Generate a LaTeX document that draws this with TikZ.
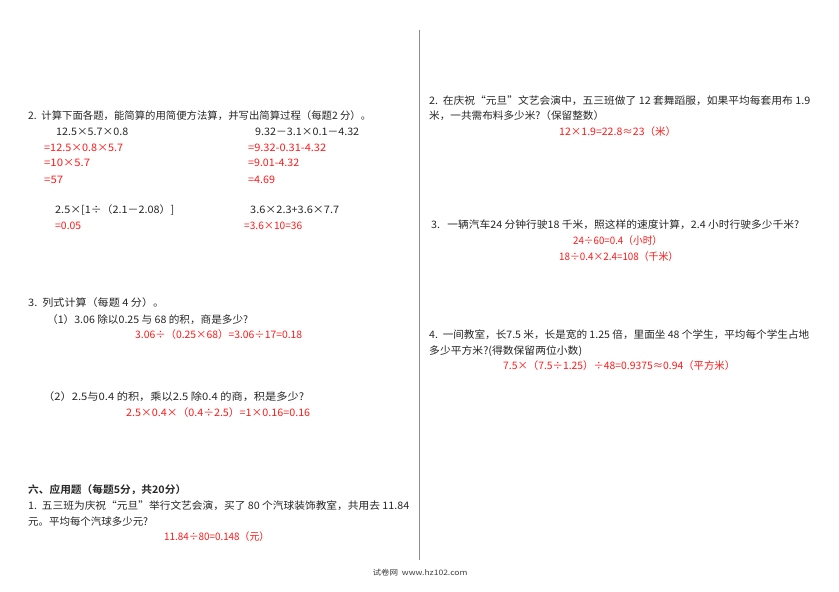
\documentclass[tikz,border=0pt]{standalone}
\usepackage{fontspec}
\setmainfont{Noto Sans CJK SC}
\newfontfamily\cjkb{Noto Sans CJK SC Bold}
\newcommand\fw[2]{\resizebox{#1pt}{\height}{#2}}
\begin{document}
\begin{tikzpicture}[x=1pt,y=-1pt,
  txt/.style={anchor=west,inner sep=0pt,font=\fontsize{10.3}{12}\selectfont,text=black!85},
  ans/.style={txt,text=red!90!white},
  foot/.style={anchor=center,inner sep=0pt,font=\fontsize{7.5}{8}\selectfont,text=black!75}]
\useasboundingbox (0,0) rectangle (839,592);
\fill[white] (0,0) rectangle (839,592);
\coordinate (lt) at (419,30);
\coordinate (lb) at (419,560);
\draw[black!45,line width=0.8pt] (lt) -- (lb);
% left column
\node[txt] (q2) at (28,116) {\fw{343}{2.\ \ 计算下面各题，能简算的用简便方法算，并写出简算过程（每题2 分）。}};
\node[txt] (a1) at (56,132) {\fw{72}{12.5×5.7×0.8}};
\node[txt] (b1) at (255,132) {\fw{104}{9.32－3.1×0.1－4.32}};
\node[ans] (a2) at (44,148) {\fw{79}{=12.5×0.8×5.7}};
\node[ans] (b2) at (248,148) {\fw{78}{=9.32-0.31-4.32}};
\node[ans] (a3) at (44,163) {\fw{46}{=10×5.7}};
\node[ans] (b3) at (248,163) {\fw{51}{=9.01-4.32}};
\node[ans] (a4) at (44,180) {\fw{19}{=57}};
\node[ans] (b4) at (248,180) {\fw{27}{=4.69}};
\node[txt] (c1) at (55,210) {\fw{119}{2.5×[1÷（2.1－2.08）]}};
\node[txt] (d1) at (250,210) {\fw{89}{3.6×2.3+3.6×7.7}};
\node[ans] (c2) at (55,226) {\fw{26}{=0.05}};
\node[ans] (d2) at (244,226) {\fw{58}{=3.6×10=36}};
\node[txt] (q3) at (28,303) {\fw{136}{3.\ \ 列式计算（每题 4 分）。}};
\node[txt] (q31) at (47,320) {\fw{201}{（1）3.06 除以0.25 与 68 的积，商是多少?}};
\node[ans] (a31) at (135,335) {\fw{167}{3.06÷（0.25×68）=3.06÷17=0.18}};
\node[txt] (q32) at (43,397) {\fw{261}{（2）2.5与0.4 的积，乘以2.5 除0.4 的商，积是多少?}};
\node[ans] (a32) at (126,413) {\fw{184}{2.5×0.4×（0.4÷2.5）=1×0.16=0.16}};
\node[txt,font=\cjkb\fontsize{10.3}{12}\selectfont] (h6) at (28,490) {\fw{158}{六、应用题（每题5分，共20分）}};
\node[txt] (p1) at (28,506) {\fw{381}{1.\ \ 五三班为庆祝“元旦”举行文艺会演，买了 80 个汽球装饰教室，共用去 11.84}};
\node[txt] (p1b) at (28,522) {\fw{120}{元。平均每个汽球多少元?}};
\node[ans] (a41) at (164,537) {\fw{105}{11.84÷80=0.148（元）}};
% right column
\node[txt] (p2) at (429,101) {\fw{381}{2.\ \ 在庆祝“元旦”文艺会演中，五三班做了 12 套舞蹈服，如果平均每套用布 1.9}};
\node[txt] (p2b) at (429,116) {\fw{175}{米，一共需布料多少米?（保留整数）}};
\node[ans] (a42) at (559,132) {\fw{117}{12×1.9=22.8≈23（米）}};
\node[txt] (p3) at (431,225) {\fw{368}{3.\ \ \ 一辆汽车24 分钟行驶18 千米，照这样的速度计算，2.4 小时行驶多少千米?}};
\node[ans] (a43) at (573,241) {\fw{89}{24÷60=0.4（小时）}};
\node[ans] (a43b) at (559,257) {\fw{119}{18÷0.4×2.4=108（千米）}};
\node[txt] (p4) at (429,335) {\fw{380}{4.\ \ 一间教室，长7.5 米，长是宽的 1.25 倍，里面坐 48 个学生，平均每个学生占地}};
\node[txt] (p4b) at (429,351) {\fw{153}{多少平方米?(得数保留两位小数)}};
\node[ans] (a44) at (503,366) {\fw{232}{7.5×（7.5÷1.25）÷48=0.9375≈0.94（平方米）}};
\node[foot] (ft) at (420,573) {\fw{95}{试卷网\ \ www.hz102.com}};
\end{tikzpicture}
\end{document}
